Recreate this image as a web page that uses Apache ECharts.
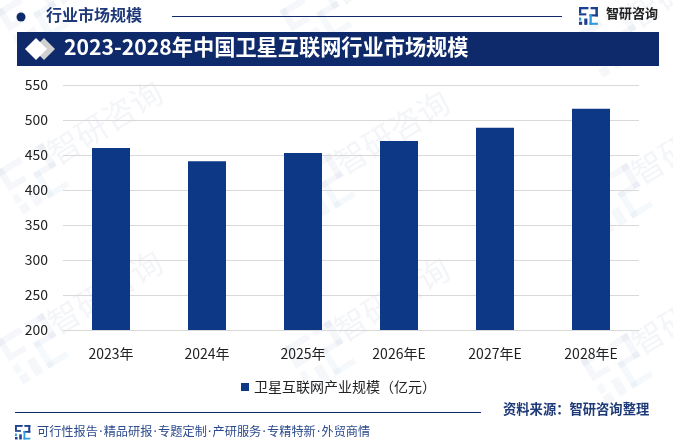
<!DOCTYPE html>
<html><head><meta charset="utf-8">
<style>html,body{margin:0;padding:0;background:#fff}#c{width:673px;height:443px}</style>
<script src="https://cdn.jsdelivr.net/npm/echarts@6/dist/echarts.min.js"></script>
</head><body><div id="c"></div>
<script>
var categories = ['2023年','2024年','2025年','2026年E','2027年E','2028年E'];
var seriesName = '卫星互联网产业规模（亿元）';
var marketSize = [460, 441, 453, 470, 489, 516];
var yTicks = {min:200, max:550, step:50};
var titleText = '2023-2028年中国卫星互联网行业市场规模';
var sectionText = '行业市场规模';
var brandText = '智研咨询';
var sourceText = '资料来源：智研咨询整理';
var footerText = '可行性报告\u200A·\u200A精品研报\u200A·\u200A专题定制\u200A·\u200A产研服务\u200A·\u200A专精特新\u200A·\u200A外贸商情';
var F = '"Noto Sans CJK SC","Noto Sans",sans-serif';
var NAVY = '#0f2a6b';

function logo(x, y, s, op){
  var c1 = op<1 ? '#8fa3c4' : '#1c3f8f', c2 = op<1 ? '#8fb8dc' : '#2f9be0';
  var r = function(a,b,w,h,col){return {type:'rect',z:op<1?0:10,silent:true,shape:{x:x+a*s,y:y+b*s,width:w*s,height:h*s},style:{fill:col,opacity:op}};};
  return [
    r(0,0,9,2.2,c1), r(0,0,2.2,6,c1), r(0,6,7,2,c1),
    r(0,10,2.2,3,c2), r(0,14,3,3,c1),
    r(11,0,7,2.2,c1), r(15.6,0,2.4,9,c1), r(10,7,8,2,c1), r(10,7,2.2,10,c2), r(10,15,8,2,c2),
    r(5,11,3,6,c1)
  ];
}
var wmItems = [];
[[7,28],[290,28],[587,51],[7,188],[294,198],[591,208],[7,358],[294,365],[591,378]].forEach(function(p){
  wmItems.push({type:'group',x:p[0],y:p[1],rotation:0.55,z:0,silent:true,children:[
    {type:'text',x:54,y:-21,z:0,style:{text:brandText,font:'32px '+F,fill:'#f3f5f8'}}
  ].concat(logo(0,-20,3,0.09))});
});

var chart = echarts.init(document.getElementById('c'), null, {renderer:'canvas'});
chart.setOption({
  animation:false,
  backgroundColor:'#fff',
  grid:{left:63,right:34,top:85,height:245},
  legend:{top:375,left:236,itemWidth:8,itemHeight:8,icon:'rect',
    textStyle:{color:'#222',fontSize:14,fontFamily:F},data:[seriesName]},
  xAxis:{type:'category',data:categories,axisTick:{show:false},
    axisLine:{lineStyle:{color:'#d9d9d9',width:1}},
    axisLabel:{color:'#222',fontSize:14,margin:17,fontFamily:F}},
  yAxis:{type:'value',min:yTicks.min,max:yTicks.max,interval:yTicks.step,
    axisLine:{show:false},axisTick:{show:false},
    splitLine:{lineStyle:{color:'#d9d9d9',width:1}},
    axisLabel:{color:'#222',fontSize:14,margin:15,fontFamily:F}},
  series:[{name:seriesName,type:'bar',data:marketSize,barWidth:38,itemStyle:{color:'#0d3886'},z:5}],
  graphic:{elements:wmItems.concat([
    {type:'circle',silent:true,z:10,shape:{cx:21,cy:17,r:4.5},style:{fill:NAVY}},
    {type:'text',silent:true,z:10,x:46,y:7,style:{text:sectionText,font:'bold 16px '+F,fill:'#1f3a78'}},
    {type:'line',silent:true,z:10,shape:{x1:172,y1:16.5,x2:562,y2:16.5},style:{stroke:NAVY,lineWidth:1}},
    {type:'rect',silent:true,z:10,shape:{x:17,y:32,width:642,height:34},style:{fill:NAVY}},
    {type:'polygon',silent:true,z:11,shape:{points:[[44,38],[55,49],[44,60],[33,49]]},style:{fill:'#d0d0d0'}},
    {type:'polygon',silent:true,z:12,shape:{points:[[36,38],[47,49],[36,60],[25,49]]},style:{fill:'#ffffff'}},
    {type:'text',silent:true,z:12,x:64,y:36,style:{text:titleText,font:'bold 21.2px '+F,fill:'#fff'}},
    {type:'text',silent:true,z:10,x:606,y:7,style:{text:brandText,font:'bold 13px '+F,fill:'#222'}},
    {type:'line',silent:true,z:10,shape:{x1:15,y1:412.5,x2:481,y2:412.5},style:{stroke:NAVY,lineWidth:1}},
    {type:'text',silent:true,z:10,x:503,y:402,style:{text:sourceText,font:'bold 13.3px '+F,fill:'#1f3a78'}},
    {type:'text',silent:true,z:10,x:37,y:426,style:{text:footerText,font:'12.2px "Noto Sans","Noto Sans CJK SC",sans-serif',fill:'#2b4a8c'}}
  ]).concat(logo(579,7,1.05,1)).concat(logo(15,425,0.85,1))}
});
</script></body></html>
